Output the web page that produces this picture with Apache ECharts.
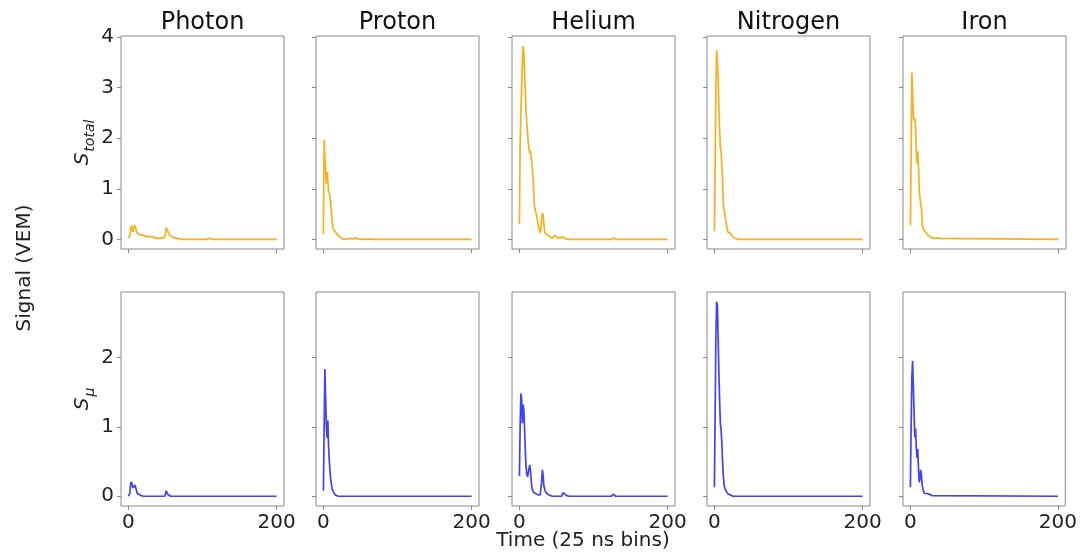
<!DOCTYPE html>
<html>
<head>
<meta charset="utf-8">
<script src="https://cdn.jsdelivr.net/npm/echarts@6/dist/echarts.min.js"></script>
<style>html,body{margin:0;padding:0;background:#fff}#c{width:1080px;height:552px}</style>
</head>
<body>
<div id="c"></div>
<script>
// ---- data: [time bin, signal VEM] ----
const categories = ['Photon', 'Proton', 'Helium', 'Nitrogen', 'Iron'];
const xTicks = [0, 200];
const yTicksTotal = [0, 1, 2, 3, 4];
const yTicksMu = [0, 1, 2];

const photonTotal = [[0,0.03],[1,0.05],[2,0.08],[3,0.2],[4,0.27],[5,0.2],[6,0.15],[7,0.18],[8,0.28],[9,0.28],[10,0.22],[11,0.15],[12,0.12],[14,0.1],[16,0.08],[18,0.09],[20,0.07],[22,0.07],[25,0.05],[28,0.06],[30,0.04],[33,0.05],[35,0.03],[38,0.02],[42,0.02],[45,0.03],[48,0.03],[50,0.1],[51,0.24],[52,0.2],[54,0.14],[56,0.08],[58,0.06],[60,0.04],[63,0.03],[66,0.02],[68,0.04],[70,0.01],[73,0],[105,0],[108,0.02],[112,0.01],[115,0],[200,0]];
const protonTotal = [[0,0.1],[1,1.97],[2,1.6],[3,1.38],[4,1.1],[5,1.33],[6,1.15],[7,0.95],[8,0.9],[9,0.85],[10,0.65],[11,0.5],[12,0.35],[13,0.22],[14,0.2],[16,0.15],[18,0.11],[20,0.08],[22,0.05],[24,0.03],[27,0],[32,0.01],[36,0.02],[40,0.01],[43,0.03],[46,0.01],[55,0],[63,0.01],[66,0],[200,0]];
const heliumTotal = [[0,0.3],[1,1.9],[2,2.5],[3,3.0],[4,3.5],[5,3.82],[6,3.7],[7,3.3],[8,2.9],[9,2.5],[10,2.3],[11,2.1],[12,1.9],[13,1.78],[14,1.7],[15,1.75],[16,1.6],[17,1.45],[18,1.3],[19,1.05],[20,0.7],[21,0.6],[22,0.55],[23,0.48],[24,0.4],[25,0.32],[26,0.25],[27,0.18],[28,0.13],[29,0.2],[30,0.4],[31,0.52],[32,0.48],[33,0.3],[34,0.15],[35,0.12],[36,0.1],[38,0.09],[40,0.07],[42,0.05],[44,0.02],[46,0.04],[48,0.08],[50,0.04],[52,0.01],[55,0.03],[58,0.05],[60,0.04],[63,0.01],[66,0],[124,0],[127,0.03],[130,0],[200,0]];
const nitrogenTotal = [[0,0.16],[1,1.5],[2,3.0],[3,3.74],[4,3.5],[5,3.2],[6,2.6],[7,2.2],[8,1.8],[9,1.75],[10,1.78],[11,1.2],[12,0.7],[13,0.58],[14,0.6],[15,0.55],[16,0.33],[17,0.22],[18,0.15],[20,0.13],[22,0.11],[25,0.05],[28,0.02],[30,0.01],[33,0],[200,0]];
const ironTotal = [[0,0.28],[1,1.8],[2,3.3],[3,2.9],[4,2.4],[5,2.35],[6,2.4],[7,2.2],[8,1.7],[9,1.5],[10,1.74],[11,1.4],[12,0.95],[13,0.8],[14,0.82],[15,0.6],[16,0.3],[17,0.22],[18,0.2],[20,0.15],[22,0.12],[25,0.07],[29,0.03],[33,0.02],[37,0.03],[39,0.05],[41,0.02],[43,0],[200,0]];

const photonMu = [[0,0],[1,0],[2,0.05],[3,0.18],[4,0.21],[5,0.18],[6,0.12],[7,0.1],[8,0.13],[9,0.16],[10,0.14],[11,0.08],[12,0.04],[14,0.02],[17,0.01],[20,0],[49,0],[50,0.03],[51,0.08],[52,0.06],[53,0.03],[55,0.01],[57,0],[200,0]];
const protonMu = [[0,0.08],[1,1.0],[2,1.83],[3,1.4],[4,1.0],[5,0.84],[6,1.09],[7,0.7],[8,0.5],[9,0.35],[10,0.23],[11,0.16],[12,0.1],[13,0.07],[14,0.05],[16,0.02],[18,0.01],[20,0],[200,0]];
const heliumMu = [[0,0.29],[1,1.0],[2,1.48],[3,1.4],[4,1.05],[5,1.32],[6,1.25],[7,0.95],[8,0.65],[9,0.42],[10,0.32],[11,0.28],[12,0.3],[13,0.4],[14,0.45],[15,0.35],[16,0.22],[17,0.12],[18,0.08],[20,0.05],[22,0.03],[25,0.02],[28,0.02],[30,0.2],[31,0.38],[32,0.3],[33,0.15],[35,0.07],[38,0.03],[42,0.01],[45,0],[57,0],[59,0.05],[61,0.03],[64,0.01],[67,0],[124,0],[127,0.03],[130,0],[200,0]];
const nitrogenMu = [[0,0.13],[1,1.2],[2,2.3],[3,2.8],[4,2.75],[5,2.3],[6,1.8],[7,1.4],[8,1.05],[9,0.95],[10,0.78],[11,0.5],[12,0.3],[13,0.17],[14,0.12],[16,0.07],[18,0.04],[21,0.02],[25,0],[200,0]];
const ironMu = [[0,0.13],[1,1.0],[2,1.7],[3,1.95],[4,1.6],[5,1.2],[6,0.85],[7,0.97],[8,0.7],[9,0.55],[10,0.68],[11,0.4],[12,0.2],[13,0.25],[14,0.38],[15,0.3],[16,0.16],[17,0.1],[19,0.04],[22,0.04],[24,0.06],[26,0.03],[29,0.01],[31,0],[200,0]];

const totalSeries = [photonTotal, protonTotal, heliumTotal, nitrogenTotal, ironTotal];
const muSeries = [photonMu, protonMu, heliumMu, nitrogenMu, ironMu];

// ---- layout ----
const FONT = 'DejaVu Sans';
const lefts = [121, 316, 512, 707, 903];
const W = 163;
const rows = [{top: 36, h: 213}, {top: 292, h: 214}];
const yRange = [[-0.19, 4.02], [-0.14, 2.94]];
const frame = '#8a8a8a';
const colors = ['rgba(255,165,0,0.9)', 'rgba(0,0,255,0.75)'];

const grid = [], xAxis = [], yAxis = [], series = [];
rows.forEach((r, ri) => {
  lefts.forEach((l, ci) => {
    const idx = grid.length;
    grid.push({left: l, top: r.top, width: W, height: r.h, show: true, borderColor: frame, borderWidth: 1, containLabel: false});
    xAxis.push({
      type: 'value', gridIndex: idx, min: -10, max: 210, position: 'bottom',
      axisLine: {show: false, onZero: false}, splitLine: {show: false},
      axisTick: {show: true, inside: false, customValues: xTicks, length: 4, lineStyle: {color: frame}},
      axisLabel: {show: ri === 1, customValues: xTicks, margin: 7, fontFamily: FONT, fontSize: 20, color: '#222'}
    });
    const ya = {
      type: 'value', gridIndex: idx, min: yRange[ri][0], max: yRange[ri][1], position: 'left',
      axisLine: {show: false, onZero: false}, splitLine: {show: false},
      axisTick: {show: true, inside: false, customValues: ri === 0 ? yTicksTotal : yTicksMu, length: 4, lineStyle: {color: frame}},
      axisLabel: {show: ci === 0, customValues: ri === 0 ? yTicksTotal : yTicksMu, margin: 7, fontFamily: FONT, fontSize: 20, color: '#222'}
    };
    if (ci === 0) {
      ya.name = ri === 0 ? '{s|S}{sub|total}' : '{s|S}{sub|μ}';
      ya.nameLocation = 'middle';
      ya.nameRotate = 90;
      ya.nameGap = 23;
      ya.nameTextStyle = {
        rich: {
          s: {fontFamily: FONT, fontStyle: 'italic', fontSize: 20, color: '#222', lineHeight: 30, verticalAlign: 'middle'},
          sub: {fontFamily: FONT, fontStyle: 'italic', fontSize: 14, color: '#222', lineHeight: 30, verticalAlign: 'bottom', padding: [0, 0, 0, 1]}
        }
      };
    }
    yAxis.push(ya);
    series.push({
      type: 'line', xAxisIndex: idx, yAxisIndex: idx,
      data: (ri === 0 ? totalSeries : muSeries)[ci],
      showSymbol: false, symbol: 'none', animation: false, silent: true,
      lineStyle: {color: colors[ri], width: 1.7}
    });
  });
});

const graphic = categories.map((c, i) => ({
  type: 'text', x: lefts[i] + W / 2, y: 23,
  style: {text: c, fontFamily: FONT, fontSize: 24, fill: '#111', align: 'center', verticalAlign: 'middle'}
}));
graphic.push({type: 'text', x: 583, y: 541, style: {text: 'Time (25 ns bins)', fontFamily: FONT, fontSize: 20, fill: '#222', align: 'center', verticalAlign: 'middle'}});
graphic.push({type: 'text', x: 25, y: 268, rotation: Math.PI / 2, style: {text: 'Signal (VEM)', fontFamily: FONT, fontSize: 20, fill: '#222', align: 'center', verticalAlign: 'middle'}});

const chart = echarts.init(document.getElementById('c'), null, {renderer: 'canvas'});
chart.setOption({backgroundColor: '#fff', animation: false, grid, xAxis, yAxis, series, graphic});
</script>
</body>
</html>
